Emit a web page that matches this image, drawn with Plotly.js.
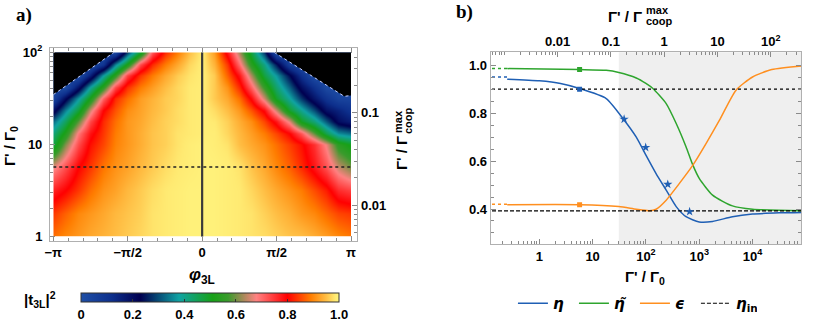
<!DOCTYPE html>
<html>
<head>
<meta charset="utf-8">
<script src="https://cdn.plot.ly/plotly-3.0.1.min.js"></script>
<style>
	html, body { margin: 0; padding: 0; background: #fff; }
	#chart { width: 830px; height: 328px; }
</style>
</head>
<body>
<div id="chart"></div>
<script>
// panel a: |t3L|^2 map on a coarse grid (rows = Γ'/Γ0, cols = φ3L)
const phiGrid = [-3.1416, -2.8798, -2.618, -2.3562, -2.0944, -1.8326, -1.5708, -1.309, -1.0472, -0.7854, -0.5236, -0.2618, 0,
	0.2618, 0.5236, 0.7854, 1.0472, 1.309, 1.5708, 1.8326, 2.0944, 2.3562, 2.618, 2.8798, 3.1416];
const gammaGrid = [1, 1.778, 3.162, 5.623, 10, 13.34, 17.78, 23.71, 31.62, 42.17, 56.23, 74.99, 100];
const t3L = [
	[0.88, 0.90, 0.915, 0.93, 0.94, 0.95, 0.96, 0.97, 0.98, 0.985, 0.99, 0.995, 0.995, 0.995, 0.99, 0.985, 0.98, 0.975, 0.965, 0.955, 0.95, 0.935, 0.92, 0.90, 0.885],
	[0.84, 0.87, 0.90, 0.915, 0.93, 0.945, 0.955, 0.965, 0.98, 0.985, 0.99, 0.995, 0.995, 0.995, 0.99, 0.985, 0.98, 0.965, 0.95, 0.935, 0.915, 0.90, 0.875, 0.85, 0.84],
	[0.77, 0.80, 0.84, 0.88, 0.91, 0.925, 0.945, 0.96, 0.975, 0.985, 0.99, 0.995, 0.995, 0.995, 0.99, 0.985, 0.97, 0.95, 0.93, 0.91, 0.89, 0.855, 0.82, 0.76, 0.74],
	[0.67, 0.73, 0.80, 0.84, 0.885, 0.91, 0.925, 0.945, 0.96, 0.975, 0.985, 0.99, 0.995, 0.995, 0.99, 0.98, 0.955, 0.93, 0.90, 0.87, 0.83, 0.78, 0.725, 0.65, 0.60],
	[0.47, 0.61, 0.73, 0.81, 0.85, 0.895, 0.915, 0.935, 0.955, 0.965, 0.98, 0.99, 0.995, 0.99, 0.98, 0.95, 0.93, 0.91, 0.88, 0.845, 0.81, 0.755, 0.67, 0.545, 0.50],
	[0.42, 0.53, 0.69, 0.785, 0.84, 0.89, 0.915, 0.935, 0.955, 0.965, 0.98, 0.985, 0.99, 0.99, 0.97, 0.945, 0.92, 0.89, 0.85, 0.80, 0.72, 0.59, 0.46, 0.36, 0.33],
	[0.33, 0.445, 0.59, 0.735, 0.83, 0.88, 0.915, 0.93, 0.95, 0.965, 0.975, 0.985, 0.99, 0.985, 0.965, 0.935, 0.905, 0.85, 0.78, 0.665, 0.50, 0.42, 0.31, 0.20, 0.16],
	[0.20, 0.35, 0.48, 0.655, 0.80, 0.86, 0.905, 0.925, 0.945, 0.96, 0.975, 0.985, 0.99, 0.975, 0.95, 0.915, 0.86, 0.79, 0.65, 0.49, 0.40, 0.30, 0.19, 0.15, 0.10],
	[0.04, 0.21, 0.37, 0.52, 0.71, 0.83, 0.88, 0.92, 0.94, 0.96, 0.97, 0.985, 0.99, 0.96, 0.93, 0.88, 0.79, 0.65, 0.49, 0.39, 0.28, 0.18, 0.10, 0.04, 0.04],
	[0, 0.01, 0.19, 0.39, 0.55, 0.735, 0.835, 0.89, 0.92, 0.95, 0.97, 0.985, 0.99, 0.96, 0.91, 0.83, 0.71, 0.56, 0.43, 0.32, 0.20, 0.11, 0.02, 0, 0],
	[0, 0, 0, 0.16, 0.38, 0.55, 0.74, 0.84, 0.89, 0.93, 0.96, 0.98, 0.99, 0.96, 0.87, 0.78, 0.63, 0.47, 0.37, 0.24, 0.11, 0, 0, 0, 0],
	[0, 0, 0, 0, 0.10, 0.35, 0.52, 0.73, 0.83, 0.89, 0.93, 0.97, 0.99, 0.94, 0.84, 0.70, 0.54, 0.41, 0.25, 0.06, 0, 0, 0, 0, 0],
	[0, 0, 0, 0, 0, 0.03, 0.29, 0.49, 0.72, 0.83, 0.89, 0.95, 0.99, 0.92, 0.78, 0.63, 0.47, 0.28, 0, 0, 0, 0, 0, 0, 0]
];
// black (unphysical) corners
const blackLeftPhi = [-3.1416, -1.86, -3.1416];
const blackLeftG = [34.7, 100, 100];
const blackRightPhi = [1.52, 3.0, 3.1416, 3.1416];
const blackRightG = [100, 33.3, 34, 100];
const gammaSel = 5.7;

// panel b curves
const etaX = [0.25, 1, 2.5, 5.7, 18, 37, 66, 100, 155, 240, 370, 565, 1000, 1780, 4200, 10000, 32000, 85000];
const etaY = [0.942, 0.935, 0.924, 0.903, 0.861, 0.778, 0.700, 0.625, 0.548, 0.479, 0.410, 0.368, 0.346, 0.348, 0.368, 0.379, 0.384, 0.386];
const etaTX = [0.25, 5.7, 18, 31, 66, 100, 135, 240, 370, 565, 760, 1000, 1780, 4200, 10000, 85000];
const etaTY = [0.986, 0.982, 0.979, 0.970, 0.947, 0.924, 0.903, 0.840, 0.757, 0.660, 0.583, 0.528, 0.458, 0.413, 0.399, 0.393];
const epsX = [0.25, 5.7, 31, 66, 115, 155, 240, 425, 760, 1350, 2400, 4900, 10000, 23000, 85000];
const epsY = [0.418, 0.418, 0.410, 0.399, 0.393, 0.399, 0.437, 0.507, 0.583, 0.674, 0.771, 0.896, 0.951, 0.982, 0.997];
const dotX = [0.1, 0.25];
const etaDot = [0.951, 0.951];
const etaTDot = [0.986, 0.986];
const epsDot = [0.42, 0.42];
const markX = [5.7];
const etaMark = [0.9];
const etaTMark = [0.982];
const epsMark = [0.418];
const starX = [39, 99, 257, 660];
const starY = [0.775, 0.657, 0.503, 0.389];
const etaTarget = 0.9;
const etaIn = 0.392;
const shadeFrom = 31;
const gCoop = 220;

const BLUE = "#1f5fb4";
const GREEN = "#2ea52e";
const ORANGE = "#ff8f1f";

const colors = [
	[0, "#1f4fa6"],
	[0.12, "#0d2f8c"],
	[0.23, "#000050"],
	[0.38, "#10a3a3"],
	[0.51, "#17a117"],
	[0.57, "#3a9b2c"],
	[0.63, "#a88a5a"],
	[0.68, "#ff8282"],
	[0.8, "#ff0000"],
	[0.89, "#ff7d00"],
	[0.95, "#ffbe44"],
	[0.985, "#ffea72"],
	[1, "#fff47e"]
];

const lcoop = Math.log10(gCoop);
const bRange = [-0.912, 4.91];

const tickFont = { family: "Liberation Sans, Arial", size: 13, color: "#000", weight: "bold" };
const frameColor = "#b0b0b0";
const tickColor = "#8a8a8a";

const data = [
	{
		type: "heatmap",
		x: phiGrid,
		y: gammaGrid,
		z: t3L,
		zmin: 0,
		zmax: 1,
		zsmooth: "best",
		colorscale: colors,
		xaxis: "x",
		yaxis: "y",
		hoverinfo: "skip",
		colorbar: {
			orientation: "h",
			x: 0.2532,
			xanchor: "center",
			y: 0.1076,
			yanchor: "top",
			len: 0.3112,
			thickness: 9,
			xpad: 0,
			ypad: 0,
			outlinewidth: 1,
			outlinecolor: "#333",
			tickvals: [0, 0.2, 0.4, 0.6, 0.8, 1],
			ticktext: ["0", "0.2", "0.4", "0.6", "0.8", "1.0"],
			ticks: "inside",
			ticklen: 3,
			tickcolor: "#333",
			tickfont: tickFont
		}
	},
	{
		x: blackLeftPhi, y: blackLeftG, xaxis: "x", yaxis: "y",
		mode: "lines", fill: "toself", fillcolor: "#000", line: { width: 0 },
		hoverinfo: "skip", showlegend: false
	},
	{
		x: blackRightPhi, y: blackRightG, xaxis: "x", yaxis: "y",
		mode: "lines", fill: "toself", fillcolor: "#000", line: { width: 0 },
		hoverinfo: "skip", showlegend: false
	},
	{
		x: blackLeftPhi.slice(0, 2), y: blackLeftG.slice(0, 2), xaxis: "x", yaxis: "y",
		mode: "lines", line: { color: "#c9d3ff", width: 1, dash: "dot" },
		hoverinfo: "skip", showlegend: false
	},
	{
		x: blackRightPhi.slice(0, 3), y: blackRightG.slice(0, 3), xaxis: "x", yaxis: "y",
		mode: "lines", line: { color: "#c9d3ff", width: 1, dash: "dot" },
		hoverinfo: "skip", showlegend: false
	},
	{
		x: [phiGrid[0], phiGrid[phiGrid.length - 1]], y: [gammaSel, gammaSel], xaxis: "x", yaxis: "y",
		mode: "lines", line: { color: "#222", width: 1.5, dash: "3px,3px" },
		hoverinfo: "skip", showlegend: false
	},
	{
		x: [0, 0], y: [gammaGrid[0], gammaGrid[gammaGrid.length - 1]], xaxis: "x", yaxis: "y",
		mode: "lines", line: { color: "#3a3a3a", width: 2.2 },
		hoverinfo: "skip", showlegend: false
	},
	// empty traces so the frame axes are drawn
	{ x: [0], y: [10], xaxis: "x2", yaxis: "y2", mode: "markers", marker: { opacity: 0 }, hoverinfo: "skip", showlegend: false },
	{ x: [0], y: [0.1], xaxis: "x2", yaxis: "y3", mode: "markers", marker: { opacity: 0 }, hoverinfo: "skip", showlegend: false },
	{ x: [1], y: [0.5], xaxis: "x4", yaxis: "y4", mode: "markers", marker: { opacity: 0 }, hoverinfo: "skip", showlegend: false },

	// panel b
	{ x: dotX, y: etaDot, xaxis: "x3", yaxis: "y4", mode: "lines", line: { color: BLUE, width: 1.5, dash: "dot" }, showlegend: false },
	{ x: dotX, y: etaTDot, xaxis: "x3", yaxis: "y4", mode: "lines", line: { color: GREEN, width: 1.5, dash: "dot" }, showlegend: false },
	{ x: dotX, y: epsDot, xaxis: "x3", yaxis: "y4", mode: "lines", line: { color: ORANGE, width: 1.5, dash: "dot" }, showlegend: false },
	{
		name: "<i>η</i>", x: etaX, y: etaY, xaxis: "x3", yaxis: "y4", mode: "lines",
		line: { color: BLUE, width: 1.5, shape: "spline", smoothing: 0.6 }
	},
	{
		name: "<i>η̃</i>", x: etaTX, y: etaTY, xaxis: "x3", yaxis: "y4", mode: "lines",
		line: { color: GREEN, width: 1.5, shape: "spline", smoothing: 0.6 }
	},
	{
		name: "<i>ϵ</i>", x: epsX, y: epsY, xaxis: "x3", yaxis: "y4", mode: "lines",
		line: { color: ORANGE, width: 1.5, shape: "spline", smoothing: 0.6 }
	},
	{
		name: "<i>η</i><sub>in</sub>", x: [dotX[0], 100000], y: [etaIn, etaIn], xaxis: "x3", yaxis: "y4", mode: "lines",
		line: { color: "#000", width: 1.2, dash: "4px,2px" }
	},
	{
		x: [dotX[0], 100000], y: [etaTarget, etaTarget], xaxis: "x3", yaxis: "y4", mode: "lines",
		line: { color: "#000", width: 1.2, dash: "dot" }, showlegend: false
	},
	{ x: markX, y: etaMark, xaxis: "x3", yaxis: "y4", mode: "markers", marker: { symbol: "square", size: 5, color: BLUE }, showlegend: false },
	{ x: markX, y: etaTMark, xaxis: "x3", yaxis: "y4", mode: "markers", marker: { symbol: "square", size: 5, color: GREEN }, showlegend: false },
	{ x: markX, y: epsMark, xaxis: "x3", yaxis: "y4", mode: "markers", marker: { symbol: "square", size: 5, color: ORANGE }, showlegend: false },
	{ x: starX, y: starY, xaxis: "x3", yaxis: "y4", mode: "markers", marker: { symbol: "star", size: 7, color: BLUE }, showlegend: false }
];

function frameAxis(extra) {
	return Object.assign({
		showgrid: false,
		zeroline: false,
		showline: true,
		linecolor: frameColor,
		linewidth: 1,
		ticks: "inside",
		ticklen: 5,
		tickcolor: tickColor,
		tickfont: tickFont,
		fixedrange: true
	}, extra);
}

const logMinor = { ticks: "inside", ticklen: 3, tickcolor: tickColor, dtick: "D1", showgrid: false };

function label(text, px, py, size, extra) {
	return Object.assign({
		text: text,
		x: px / 830,
		y: 1 - py / 328,
		xref: "paper",
		yref: "paper",
		xanchor: "center",
		yanchor: "middle",
		showarrow: false,
		font: { size: size, weight: "bold" }
	}, extra);
}

const layout = {
	width: 830,
	height: 328,
	margin: { l: 0, r: 0, t: 0, b: 0, autoexpand: false },
	paper_bgcolor: "#fff",
	plot_bgcolor: "rgba(0,0,0,0)",
	font: { family: "Liberation Sans, Arial", size: 13, color: "#000" },
	showlegend: true,
	legend: {
		orientation: "h",
		x: 0.618,
		xanchor: "left",
		y: 0.125,
		yanchor: "top",
		entrywidth: 16,
		entrywidthmode: "pixels",
		itemwidth: 30,
		font: { family: "DejaVu Sans, Liberation Sans", size: 15, weight: "bold" },
		bgcolor: "rgba(0,0,0,0)"
	},
	xaxis: { domain: [0.0642, 0.4229], range: [-Math.PI, Math.PI], anchor: "y", visible: false, fixedrange: true },
	yaxis: { domain: [0.2784, 0.8405], type: "log", range: [0, 2], anchor: "x", visible: false, fixedrange: true },
	xaxis2: frameAxis({
		domain: [0.0602, 0.4305],
		range: [-3.2113, 3.2746],
		anchor: "y2",
		mirror: "ticks",
		tickmode: "array",
		tickvals: [-Math.PI, -Math.PI / 2, 0, Math.PI / 2, Math.PI],
		ticktext: ["−π", "−π/2", "0", "π/2", "π"],
		minor: { ticks: "inside", ticklen: 3, tickcolor: tickColor, tickmode: "linear", tick0: -Math.PI, dtick: Math.PI / 10, showgrid: false }
	}),
	yaxis2: frameAxis({
		domain: [0.2662, 0.8546],
		type: "log",
		range: [-0.0434, 2.0499],
		anchor: "x2",
		tickmode: "array",
		tickvals: [1, 10, 100],
		ticktext: ["1", "10", "10<sup>2</sup>"],
		ticklabelstandoff: 4,
		minor: logMinor
	}),
	yaxis3: frameAxis({
		overlaying: "y2",
		side: "right",
		anchor: "x2",
		type: "log",
		range: [-0.0434 - lcoop, 2.0499 - lcoop],
		tickmode: "array",
		tickvals: [0.01, 0.1],
		ticktext: ["0.01", "0.1"],
		minor: logMinor
	}),
	xaxis3: frameAxis({
		domain: [0.5912, 0.9651],
		type: "log",
		range: bRange,
		anchor: "y4",
		tickmode: "array",
		tickvals: [1, 10, 100, 1000, 10000],
		ticktext: ["1", "10", "10<sup>2</sup>", "10<sup>3</sup>", "10<sup>4</sup>"],
		minor: logMinor
	}),
	xaxis4: frameAxis({
		overlaying: "x3",
		side: "top",
		anchor: "y4",
		type: "log",
		range: [bRange[0] - lcoop, bRange[1] - lcoop],
		tickmode: "array",
		tickvals: [0.01, 0.1, 1, 10, 100],
		ticktext: ["0.01", "0.1", "1", "10", "10<sup>2</sup>"],
		minor: logMinor
	}),
	yaxis4: frameAxis({
		domain: [0.2561, 0.8405],
		range: [0.254, 1.054],
		anchor: "x3",
		mirror: "ticks",
		tickmode: "array",
		tickvals: [0.4, 0.6, 0.8, 1.0],
		ticktext: ["0.4", "0.6", "0.8", "1.0"],
		minor: { ticks: "inside", ticklen: 3, tickcolor: tickColor, tickmode: "linear", tick0: 0.4, dtick: 0.05, showgrid: false }
	}),
	shapes: [
		{
			type: "rect", xref: "x3", yref: "y4 domain",
			x0: shadeFrom, x1: Math.pow(10, bRange[1]), y0: 0, y1: 1,
			fillcolor: "#efefef", line: { width: 0 }, layer: "below"
		}
	],
	annotations: [
		label("a)", 24, 15, 19, { font: { family: "Liberation Serif", size: 19, weight: "bold" } }),
		label("b)", 464, 12, 19, { font: { family: "Liberation Serif", size: 19, weight: "bold" } }),
		// panel a titles
		label("Γ' / Γ<sub>0</sub>", 11, 146, 15, { textangle: -90 }),
		label("<i>φ</i><sub>3L</sub>", 202, 276, 17),
		label("Γ' / Γ", 401, 153, 15, { textangle: -90 }),
		label("max", 398, 122, 11, { textangle: -90 }),
		label("coop", 408, 121, 11, { textangle: -90 }),
		label("|t<sub>3L</sub>|<sup>2</sup>", 40, 299, 15),
		// panel b titles
		label("Γ' / Γ", 644, 16, 15, { xanchor: "right" }),
		label("max", 644, 10, 11, { xanchor: "left" }),
		label("coop", 644, 21, 11, { xanchor: "left" }),
		label("Γ' / Γ<sub>0</sub>", 645, 277, 15)
	]
};

Plotly.newPlot("chart", data, layout, { staticPlot: true, displayModeBar: false });
</script>
</body>
</html>
